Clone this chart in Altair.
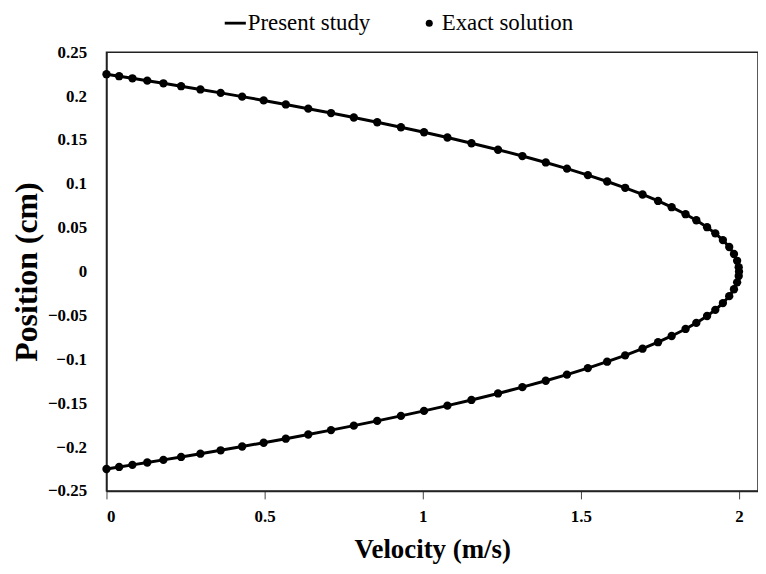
import altair as alt
import pandas as pd

# Velocity (m/s) and position (cm)
velocity_upper = [0.0, 0.04, 0.082, 0.129, 0.18, 0.236, 0.297, 0.361, 0.429, 0.497,
                  0.567, 0.638, 0.71, 0.782, 0.856, 0.931, 1.004, 1.078, 1.154, 1.238,
                  1.315, 1.389, 1.456, 1.522, 1.583, 1.64, 1.695, 1.744, 1.787, 1.831,
                  1.865, 1.899, 1.925, 1.949, 1.969, 1.984, 1.994, 1.999]
position_upper = [0.225, 0.2227, 0.2203, 0.2176, 0.2146, 0.2113, 0.2076, 0.2037, 0.1994, 0.1951,
                  0.1905, 0.1857, 0.1807, 0.1756, 0.1702, 0.1645, 0.1588, 0.1528, 0.1463, 0.1389,
                  0.1317, 0.1244, 0.1174, 0.1100, 0.1027, 0.0955, 0.0879, 0.0805, 0.0734, 0.0654,
                  0.0585, 0.0506, 0.0436, 0.0359, 0.0280, 0.0201, 0.0123, 0.0050]
velocity_center = [2.0]
position_center = [0.0]
velocity_lower = [1.999, 1.994, 1.984, 1.969, 1.949, 1.925, 1.899, 1.865, 1.831, 1.787,
                  1.744, 1.695, 1.64, 1.583, 1.522, 1.456, 1.389, 1.315, 1.238, 1.154,
                  1.078, 1.004, 0.931, 0.856, 0.782, 0.71, 0.638, 0.567, 0.497, 0.429,
                  0.361, 0.297, 0.236, 0.18, 0.129, 0.082, 0.04, 0.0]
position_lower = [-0.0050, -0.0123, -0.0201, -0.0280, -0.0359, -0.0436, -0.0506, -0.0585, -0.0654, -0.0734,
                  -0.0805, -0.0879, -0.0955, -0.1027, -0.1100, -0.1174, -0.1244, -0.1317, -0.1389, -0.1463,
                  -0.1528, -0.1588, -0.1645, -0.1702, -0.1756, -0.1807, -0.1857, -0.1905, -0.1951, -0.1994,
                  -0.2037, -0.2076, -0.2113, -0.2146, -0.2176, -0.2203, -0.2227, -0.225]

series_names = ["Present study", "Exact solution"]
x_ticks = [0, 0.5, 1, 1.5, 2]
y_ticks = [0.25, 0.2, 0.15, 0.1, 0.05, 0, -0.05, -0.1, -0.15, -0.2, -0.25]

vel = velocity_upper + velocity_center + velocity_lower
pos = position_upper + position_center + position_lower
df_line = pd.DataFrame({"velocity": vel, "position": pos, "idx": list(range(len(vel))),
                        "series": series_names[0]})
df_pts = pd.DataFrame({"velocity": vel, "position": pos, "series": series_names[1]})

FONT = "Liberation Serif"

x_enc = alt.X("velocity:Q", scale=alt.Scale(domain=[0, 2.06], nice=False, zero=False),
              axis=alt.Axis(title="Velocity (m/s)", values=x_ticks, format="~g"))
y_enc = alt.Y("position:Q", scale=alt.Scale(domain=[-0.25, 0.25], nice=False),
              axis=alt.Axis(title="Position (cm)", values=y_ticks, format="~g"))

line = alt.Chart(df_line).mark_line(color="black", strokeWidth=3).encode(
    x=x_enc, y=y_enc, order="idx:Q"
)

line_path = "M-3,-0.4H3V0.4H-3Z"
points = alt.Chart(df_pts).mark_point(filled=True, color="black", size=70, opacity=1).encode(
    x=x_enc, y=y_enc,
    shape=alt.Shape("series:N",
                    scale=alt.Scale(domain=series_names, range=[line_path, "circle"]),
                    legend=alt.Legend(title=None, orient="none", legendX=118, legendY=-41,
                                      direction="horizontal", labelFont=FONT,
                                      labelFontSize=23, labelColor="black",
                                      symbolSize=50, symbolFillColor="black",
                                      symbolStrokeWidth=0, labelOffset=1,
                                      columnPadding=47, padding=0))
)

chart = alt.layer(line, points).properties(
    width=655, height=441,
    autosize=alt.AutoSizeParams(type="none"),
    padding={"left": 99, "top": 43, "right": 0, "bottom": 74}
).configure_view(
    stroke="#222222", strokeWidth=1.5
).configure_axis(
    grid=False, labelFont=FONT, labelFontWeight="bold", labelFontSize=17,
    labelColor="black", titleFont=FONT, titleFontWeight="bold",
    titleColor="black", domainColor="#222222", domainWidth=1.5, tickColor="#444444"
).configure_axisX(
    tickSize=8, labelPadding=10, titlePadding=12, titleFontSize=27
).configure_axisY(
    tickSize=0, labelPadding=20, titlePadding=4, titleFontSize=32
)

chart.save("out.html", embed_options={"renderer": "svg", "actions": False})
